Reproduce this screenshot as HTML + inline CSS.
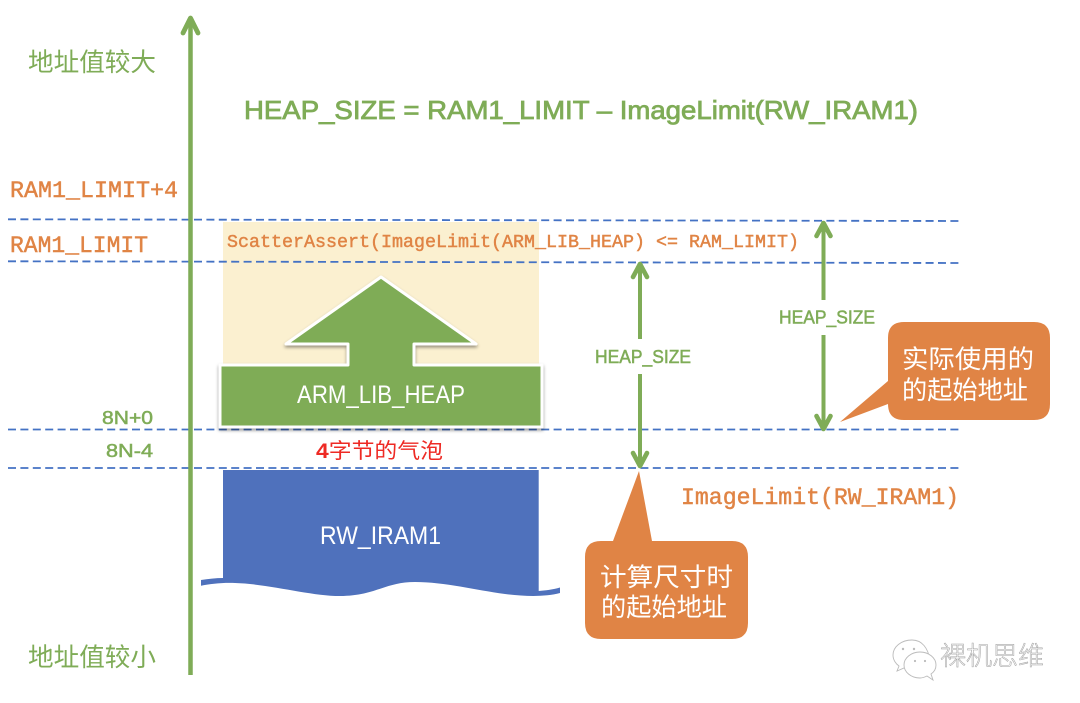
<!DOCTYPE html>
<html><head><meta charset="utf-8"><style>
html,body{margin:0;padding:0;background:#fff;width:1080px;height:703px;overflow:hidden}
svg{display:block}
text{font-family:"Liberation Sans","Noto Sans CJK SC",sans-serif}
.m{font-family:"Liberation Mono","DejaVu Sans Mono",monospace;stroke:#e08445;stroke-width:.45}
.c{font-family:"Noto Sans CJK SC","Liberation Sans",sans-serif;font-weight:400}
.g{stroke:#7fac57;stroke-width:.5}
</style></head><body>
<svg width="1080" height="703" viewBox="0 0 1080 703" xmlns="http://www.w3.org/2000/svg">
<defs><filter id="s" x="-5%" y="-5%" width="110%" height="115%"><feDropShadow dx="0" dy="2" stdDeviation="1.500" flood-color="#000" flood-opacity=".4"/></filter></defs>
<rect width="1080" height="703" fill="#fff"/>
<rect x="223" y="222" width="316" height="146" fill="#fbf0d0"/>
<g stroke="#4472c4" stroke-width="1.800" stroke-dasharray="8 4.400" fill="none">
<path d="M8 219.300L960 221"/><path d="M8 261.300L960 263"/><path d="M8 429.500L960 429.500"/><path d="M8 468L960 468"/>
</g>
<g stroke="#7fac57" fill="none" stroke-linecap="round" stroke-linejoin="round">
<path d="M190.500 675V20" stroke-width="4.500" stroke-linecap="butt"/>
<path d="M183 33L190.500 18L198 33" stroke-width="4.800"/>
<path d="M640 339V266M640 374V464" stroke-width="4" stroke-linecap="butt"/>
<path d="M633 277L640 264L647 277M633 453L640 466L647 453" stroke-width="4.600"/>
<path d="M823.500 300V226M823.500 335V427" stroke-width="4" stroke-linecap="butt"/>
<path d="M816.500 236L823.500 223L830.500 236M816.500 416L823.500 429L830.500 416" stroke-width="4.600"/>
</g>
<polygon points="381,277 476,344 414,344 414,365 542,365 542,427 220,427 220,365 348,365 348,344 286,344" fill="#7fac57" stroke="#fff" stroke-width="3" stroke-linejoin="round" filter="url(#s)"/>
<path d="M223 470H538.700V591C545 590.500 553 589.500 560 587.500V593C545 597 525 596.500 505 594C475 590 445 582 415 582C385 582 375 596 340 596C310 596 270 584 235 583C222 582.500 210 584 201 585.700V580C208 579 216 578 223 578Z" fill="#4f71bc"/>
<path d="M904 322H1034Q1050 322 1050 338V404Q1050 420 1034 420H904Q888 420 888 404L840 422L888 381V338Q888 322 904 322Z" fill="#e08445"/>
<path d="M601 541H613L639 471L652 541H732Q748 541 748 557V623Q748 639 732 639H601Q585 639 585 623V557Q585 541 601 541Z" fill="#e08445"/>
<text class="g" x="244" y="119" font-size="26" fill="#7fac57" style="stroke-width:.8" textLength="674" lengthAdjust="spacingAndGlyphs">HEAP_SIZE = RAM1_LIMIT – ImageLimit(RW_IRAM1)</text>
<text class="c" x="28" y="71" font-size="25.500" fill="#7fac57" textLength="128" lengthAdjust="spacingAndGlyphs">地址值较大</text>
<text class="c" x="28" y="666" font-size="25.500" fill="#7fac57" textLength="128" lengthAdjust="spacingAndGlyphs">地址值较小</text>
<text class="m" x="10" y="197" font-size="23" fill="#e08445" textLength="168" lengthAdjust="spacingAndGlyphs">RAM1_LIMIT+4</text>
<text class="m" x="10" y="252" font-size="23" fill="#e08445" textLength="138" lengthAdjust="spacingAndGlyphs">RAM1_LIMIT</text>
<text class="m" x="227" y="247" font-size="18" fill="#e08445" textLength="572" lengthAdjust="spacingAndGlyphs">ScatterAssert(ImageLimit(ARM_LIB_HEAP) &lt;= RAM_LIMIT)</text>
<text class="m" x="681" y="504" font-size="23" fill="#e08445" textLength="278" lengthAdjust="spacingAndGlyphs">ImageLimit(RW_IRAM1)</text>
<text class="g" x="779" y="323.500" font-size="18" fill="#7fac57" textLength="96" lengthAdjust="spacingAndGlyphs">HEAP_SIZE</text>
<text class="g" x="595" y="363" font-size="18" fill="#7fac57" textLength="96" lengthAdjust="spacingAndGlyphs">HEAP_SIZE</text>
<text class="g" x="102" y="424" font-size="18" fill="#7fac57" textLength="51" lengthAdjust="spacingAndGlyphs">8N+0</text>
<text class="g" x="106" y="457" font-size="18" fill="#7fac57" textLength="47" lengthAdjust="spacingAndGlyphs">8N-4</text>
<text x="316" y="458" font-size="21" fill="#ee2a24" textLength="127" lengthAdjust="spacingAndGlyphs"><tspan font-weight="700">4</tspan><tspan class="c">字节的气泡</tspan></text>
<text x="297" y="403" font-size="25" fill="#fff" textLength="168" lengthAdjust="spacingAndGlyphs">ARM_LIB_HEAP</text>
<text x="320" y="544" font-size="25" fill="#fff" textLength="121" lengthAdjust="spacingAndGlyphs">RW_IRAM1</text>
<g fill="#fff" font-size="25.500">
<text class="c" x="902" y="368" textLength="132" lengthAdjust="spacingAndGlyphs">实际使用的</text>
<text class="c" x="902" y="399" textLength="126" lengthAdjust="spacingAndGlyphs">的起始地址</text>
<text class="c" x="600" y="586" textLength="133" lengthAdjust="spacingAndGlyphs">计算尺寸时</text>
<text class="c" x="601" y="616" textLength="126" lengthAdjust="spacingAndGlyphs">的起始地址</text>
</g>
<g fill="#fff" stroke="#bbb" stroke-width=".9">
<path d="M912 640C901 640 893 647 893 655C893 660 896 664 899 666L897 671L904 668C906 669 908 669 910 669C915 673 925 673 930 660C928 648 922 640 912 640Z"/>
<path d="M920 652C911 652 904 658 904 665C904 672 911 678 920 678C923 678 925 677 927 676L933 680L931 674C934 672 936 669 936 665C936 658 929 652 920 652Z"/>
</g>
<g fill="#bbb"><circle cx="903" cy="649" r="1.200"/><circle cx="914" cy="649" r="1.200"/><circle cx="915" cy="661" r="1.100"/><circle cx="925" cy="661" r="1.100"/></g>
<text x="940" y="665" font-size="26" fill="#fff" stroke="#a5a5a5" stroke-width=".55" style="font-family:'Noto Sans CJK SC',sans-serif;font-weight:300" textLength="104" lengthAdjust="spacingAndGlyphs">裸机思维</text>
</svg>
</body></html>
